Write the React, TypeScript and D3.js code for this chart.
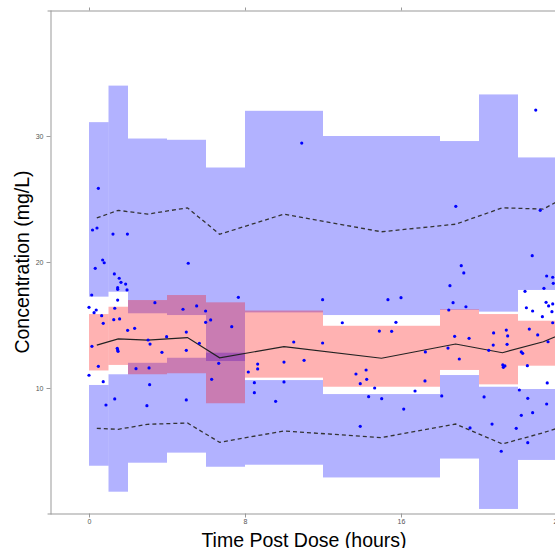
import React, { useEffect, useRef } from 'react';
import * as d3 from 'd3';

// bin edges (hours)
const binEdges = [0, 1, 2, 4, 6, 8, 12, 18, 20, 22, 24];

// simulated 95th percentile CI (upper blue)
const hiTop = [31.1, 34.0, 29.8, 29.7, 27.5, 32.0, 30.0, 29.6, 33.3, 28.3];
const hiBottom = [17.25, 17.64, 15.93, 15.79, 12.14, 16.0, 15.79, 16.2, 16.06, 17.78];
// simulated median CI (red)
const medTop = [15.87, 16.45, 16.98, 17.38, 16.8, 16.15, 14.94, 16.25, 15.87, 15.34];
const medBottom = [11.39, 11.83, 11.09, 11.17, 8.79, 10.82, 10.1, 11.43, 10.29, 11.77];
// simulated 5th percentile CI (lower blue)
const loTop = [10.24, 11.09, 12.0, 12.4, 12.8, 10.63, 9.52, 11.03, 10.1, 9.92];
const loBottom = [3.83, 1.77, 4.07, 4.87, 3.75, 3.91, 2.9, 4.4, 0.4, 4.29];

// observed percentiles
const lineTimes = [0.4, 1.5, 3.0, 5.05, 6.7, 10.0, 15.0, 18.8, 21.2, 23.3, 24.6];
const obsMedian = [13.4, 13.9, 13.8, 14.0, 12.4, 13.28, 12.36, 13.49, 12.8, 13.67, 14.5];
const obsP95 = [23.5, 24.1, 23.8, 24.3, 22.2, 23.8, 22.4, 23.0, 24.3, 24.2, 25.3];
const obsP05 = [6.8, 6.72, 7.12, 7.22, 5.69, 6.59, 6.06, 7.14, 5.56, 6.45, 7.1];

// observations
const obsTime = [
  0.48, 10.91, 18.81, 22.91, 23.14, 0.7, 0.78, 0.32, 1.3, 1.55, 1.64, 1.88, 1.47, 1.47, 1.95, 0.14,
  5.09, 0.0, 0.37, 0.26, 1.47, 1.32, 0.65, 1.27, 1.57, 0.73, 3.38, 4.82, 5.52, 1.98, 2.34, 3.03,
  3.13, 3.98, 4.99, 0.15, 1.45, 1.47, 1.49, 3.74, 4.99, 0.48, 2.41, 3.08, 0.0, 0.73, 3.11, 0.87,
  1.32, 2.97, 4.99, 7.66, 5.98, 6.24, 5.98, 7.32, 5.66, 6.65, 6.29, 8.65, 8.65, 8.17, 8.48, 8.48,
  9.57, 10.0, 10.0, 10.5, 11.03, 11.98, 11.98, 12.99, 13.69, 14.21, 14.24, 13.91, 14.65, 14.34,
  13.91, 14.89, 15.33, 15.74, 15.52, 15.01, 22.73, 19.09, 19.22, 23.47, 23.78, 23.81, 18.51,
  23.33, 22.36, 16.0, 18.67, 19.33, 18.45, 23.44, 23.57, 23.78, 22.43, 22.75, 23.74, 23.25,
  23.78, 22.58, 23.01, 20.75, 21.4, 21.47, 18.75, 19.49, 20.73, 21.44, 20.5, 22.17, 22.24, 18.41,
  17.25, 18.99, 21.22, 21.33, 21.25, 22.48, 23.5, 17.23, 16.72, 18.09, 20.26, 22.07, 22.5, 23.47,
  16.14, 22.17, 22.75, 20.67, 19.54, 21.91, 22.5, 21.14, 23.54, 0.18, 0.41, 1.23, 1.97,
];
const obsConc = [
  25.85, 29.44, 24.42, 32.06, 24.1, 20.16, 19.94, 19.5, 19.05, 18.71, 18.39, 18.25, 17.96, 17.83,
  17.78, 17.38, 19.9, 16.4, 16.19, 15.98, 16.98, 16.33, 15.74, 15.42, 15.48, 15.13, 16.77, 16.25,
  16.51, 14.58, 14.74, 13.81, 13.49, 14.07, 14.44, 13.31, 13.15, 13.02, 12.91, 12.83, 12.99, 11.72,
  11.53, 11.59, 11.01, 10.5, 10.26, 8.65, 9.13, 8.6, 9.05, 17.2, 16.11, 15.4, 15.21, 14.87, 13.55,
  11.96, 10.69, 11.9, 11.51, 11.27, 10.42, 9.63, 8.94, 12.06, 10.48, 13.65, 12.2, 17.01, 13.57,
  15.18, 11.11, 11.43, 10.69, 10.34, 10.0, 9.31, 6.96, 14.52, 17.01, 15.21, 14.5, 9.15, 20.5,
  19.71, 19.13, 18.89, 18.79, 18.31, 18.12, 17.91, 17.67, 17.17, 16.77, 16.45, 16.19, 16.8, 16.51,
  16.67, 16.37, 16.11, 16.06, 15.66, 15.18, 14.68, 14.21, 14.37, 14.6, 14.13, 14.1, 13.94, 13.41,
  13.47, 12.99, 12.86, 12.75, 13.17, 12.86, 12.3, 11.83, 11.75, 11.64, 11.77, 10.4, 10.56, 9.76,
  9.37, 9.29, 9.84, 9.18, 8.73, 8.33, 7.83, 8.04, 7.14, 6.83, 6.8, 5.66, 4.98, 13.67, 22.54, 22.7,
  22.22, 22.22,
];

const yTicks = [10, 20, 30];
const xTicks = [0, 8, 16, 24];

const W = 555;
const H = 548;
const FONT = '"Liberation Sans", Arial, sans-serif';

export default function App() {
  const ref = useRef<SVGSVGElement>(null);

  useEffect(() => {
    const svg = d3.select(ref.current);
    svg.selectAll('*').remove();

    const x = d3.scaleLinear().domain([0, 8]).range([89, 245]);
    const y = d3.scaleLinear().domain([0, 40]).range([514, 10]);
    const xa = d3.scaleLinear().domain([-2.15, 24.6]).range([x(-2.15), x(24.6)]);

    const bins = d3.range(binEdges.length - 1);

    const band = (top: number[], bottom: number[], fill: string) => {
      svg.append('g')
        .selectAll('rect')
        .data(bins)
        .join('rect')
        .attr('x', i => x(binEdges[i]))
        .attr('width', i => x(binEdges[i + 1]) - x(binEdges[i]))
        .attr('y', i => y(top[i]))
        .attr('height', i => y(bottom[i]) - y(top[i]))
        .attr('fill', fill);
    };

    // blue PI bands first, red median band on top
    band(hiTop, hiBottom, 'rgba(0,0,255,0.3)');
    band(loTop, loBottom, 'rgba(0,0,255,0.3)');
    band(medTop, medBottom, 'rgba(255,0,0,0.3)');

    const line = (vals: number[]) =>
      d3.line<number>()
        .x((_, i) => x(lineTimes[i]))
        .y(d => y(d))(vals);

    svg.append('path')
      .attr('d', line(obsMedian))
      .attr('fill', 'none')
      .attr('stroke', '#222')
      .attr('stroke-width', 1.2);

    [obsP95, obsP05].forEach(v => {
      svg.append('path')
        .attr('d', line(v))
        .attr('fill', 'none')
        .attr('stroke', '#333')
        .attr('stroke-width', 1.3)
        .attr('stroke-dasharray', '4,3');
    });

    // observations
    svg.append('g')
      .selectAll('circle')
      .data(obsTime)
      .join('circle')
      .attr('cx', d => x(d))
      .attr('cy', (_, i) => y(obsConc[i]))
      .attr('r', 1.6)
      .attr('fill', '#0000ff');

    // axes
    const styleAxis = (g: any) => {
      g.selectAll('.domain').attr('stroke', '#999');
      g.selectAll('.tick line').attr('stroke', '#999');
      g.selectAll('.tick text')
        .attr('fill', '#555')
        .style('font-size', '7px')
        .style('font-family', FONT);
    };

    svg.append('g')
      .attr('transform', 'translate(50.5,0)')
      .call(d3.axisLeft(y).tickValues(yTicks).tickSize(4).tickSizeOuter(0).tickPadding(3))
      .call(styleAxis);

    svg.append('g')
      .attr('transform', 'translate(0,513.5)')
      .call(d3.axisBottom(xa).tickValues(xTicks).tickSize(4).tickSizeOuter(0).tickPadding(2))
      .call(styleAxis);

    svg.append('g')
      .attr('transform', 'translate(0,10.5)')
      .call(d3.axisTop(xa).tickValues(xTicks).tickSize(3).tickSizeOuter(0).tickFormat(() => ''))
      .call(styleAxis);

    // titles
    svg.append('text')
      .attr('x', 304)
      .attr('y', 546.5)
      .attr('text-anchor', 'middle')
      .style('font-family', FONT)
      .style('font-size', '19.5px')
      .text('Time Post Dose (hours)');

    svg.append('text')
      .attr('transform', 'translate(28.5,262) rotate(-90)')
      .attr('text-anchor', 'middle')
      .style('font-family', FONT)
      .style('font-size', '19.5px')
      .text('Concentration (mg/L)');
  }, []);

  return (
    <svg
      ref={ref}
      width={W}
      height={H}
      style={{ position: 'absolute', left: 0, top: 0, background: '#fff' }}
    />
  );
}
